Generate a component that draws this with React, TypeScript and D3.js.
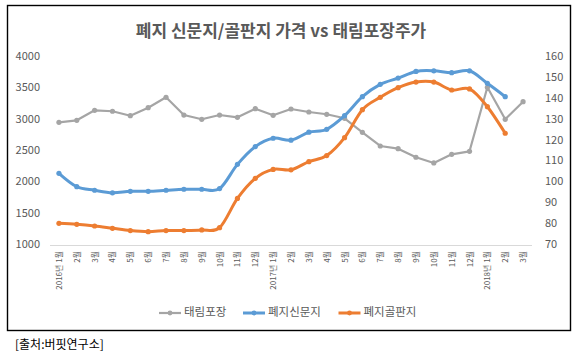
import React from "react";
import * as d3 from "d3";

const months: string[] = [
  "2016년 1월", "2월", "3월", "4월", "5월", "6월", "7월", "8월", "9월", "10월", "11월", "12월",
  "2017년 1월", "2월", "3월", "4월", "5월", "6월", "7월", "8월", "9월", "10월", "11월", "12월",
  "2018년 1월", "2월", "3월",
];

// 태림포장 주가 (left axis)
const taerim: number[] = [
  2958, 2990, 3149, 3134, 3063, 3191, 3357, 3074, 3006, 3074, 3038, 3175,
  3070, 3170, 3122, 3086, 3022, 2798, 2580, 2537, 2400, 2309, 2447, 2495,
  3517, 3006, 3287,
];

// 폐지 신문지 (right axis)
const newsprint: number[] = [
  104.3, 97.9, 96.2, 95.0, 95.7, 95.7, 96.2, 96.7, 96.7, 97.0, 108.6, 117.1,
  121.1, 120.2, 124.0, 125.4, 131.9, 141.0, 146.9, 149.9, 153.1, 153.4, 152.5, 153.4,
  147.4, 141.0,
];

// 폐지 골판지 (right axis)
const corrugated: number[] = [
  80.4, 79.9, 79.1, 78.0, 76.9, 76.4, 76.9, 76.9, 77.2, 78.3, 92.3, 101.9,
  106.2, 106.0, 109.9, 112.8, 121.4, 134.8, 140.7, 145.3, 148.0, 148.0, 144.2, 144.7,
  136.2, 123.5,
];

const leftTicks: number[] = [1000, 1500, 2000, 2500, 3000, 3500, 4000];
const rightTicks: number[] = [70, 80, 90, 100, 110, 120, 130, 140, 150, 160];

const seriesNames: string[] = ["태림포장", "폐지신문지", "폐지골판지"];
const seriesColors: string[] = ["#A5A5A5", "#5B9BD5", "#ED7D31"];

const title = "폐지 신문지/골판지 가격 vs 태림포장주가";
const source = "[출처:버핏연구소]";

const FONT = "'Noto Sans CJK KR', 'Noto Sans', sans-serif";
const TEXT = "#595959";

export default function App() {
  const W = 580, H = 356;
  const plotL = 50, plotR = 532, plotT = 57, plotB = 245;

  const x = d3.scaleBand<number>().domain(d3.range(months.length)).range([plotL, plotR]).padding(0);
  const cx = (i: number) => (x(i) as number) + x.bandwidth() / 2;
  const yL = d3.scaleLinear().domain([1000, 4000]).range([plotB, plotT]);
  const yR = d3.scaleLinear().domain([70, 160]).range([plotB, plotT]);

  const lineStraight = (ys: (v: number) => number) =>
    d3.line<number>().x((_, i) => cx(i)).y((v) => ys(v));
  const lineSmooth = (ys: (v: number) => number) =>
    d3.line<number>().x((_, i) => cx(i)).y((v) => ys(v)).curve(d3.curveCardinal.tension(0));

  const series = [
    { data: taerim, scale: yL, path: lineStraight(yL)(taerim), width: 2.2 },
    { data: newsprint, scale: yR, path: lineSmooth(yR)(newsprint), width: 3 },
    { data: corrugated, scale: yR, path: lineSmooth(yR)(corrugated), width: 3 },
  ];

  // legend layout
  const legendY = 313;
  const charW = 11.5;
  let lx = 159;
  const legendItems = seriesNames.map((name, i) => {
    const item = { name, color: seriesColors[i], x: lx };
    lx += 22 + 3 + name.length * charW + 13;
    return item;
  });

  return (
    <svg width={W} height={H} style={{ position: "absolute", left: 0, top: 0 }} fontFamily={FONT}>
      <rect x={0} y={0} width={W} height={H} fill="#fff" />
      <rect x={7.5} y={5.5} width={563} height={325} fill="#fff" stroke="#000" strokeWidth={1.4} />

      <text x={281} y={32} textAnchor="middle" dominantBaseline="middle" fontSize={17} fontWeight="bold" fill={TEXT}>
        {title}
      </text>

      {/* left axis labels */}
      {leftTicks.map((t) => (
        <text key={"l" + t} x={40} y={yL(t)} textAnchor="end" dominantBaseline="middle" fontSize={11} fill={TEXT}>
          {t}
        </text>
      ))}
      {/* right axis labels */}
      {rightTicks.map((t) => (
        <text key={"r" + t} x={545} y={yR(t)} textAnchor="start" dominantBaseline="middle" fontSize={11} fill={TEXT}>
          {t}
        </text>
      ))}

      {/* category axis line */}
      <line x1={plotL} x2={plotR} y1={plotB + 0.5} y2={plotB + 0.5} stroke="#D9D9D9" strokeWidth={1} />

      {/* category labels */}
      {months.map((m, i) => (
        <text
          key={"m" + i}
          transform={`translate(${cx(i) + 3},${plotB + 6}) rotate(-90)`}
          textAnchor="end"
          fontSize={8}
          fill={TEXT}
        >
          {m}
        </text>
      ))}

      {/* series */}
      {series.map((s, si) => (
        <g key={"s" + si}>
          <path d={s.path || ""} fill="none" stroke={seriesColors[si]} strokeWidth={s.width} strokeLinejoin="round" strokeLinecap="round" />
          {s.data.map((v, i) => (
            <circle key={i} cx={cx(i)} cy={s.scale(v)} r={2.6} fill={seriesColors[si]} />
          ))}
        </g>
      ))}

      {/* legend */}
      {legendItems.map((it, i) => (
        <g key={"lg" + i}>
          <line x1={it.x} x2={it.x + 22} y1={legendY} y2={legendY} stroke={it.color} strokeWidth={i === 0 ? 2.2 : 3} />
          <circle cx={it.x + 11} cy={legendY} r={2.4} fill={it.color} />
          <text x={it.x + 25} y={legendY} dominantBaseline="middle" fontSize={11.5} fill={TEXT}>
            {it.name}
          </text>
        </g>
      ))}

      <text x={15} y={346} dominantBaseline="middle" fontSize={12} fill="#000">
        {source}
      </text>
    </svg>
  );
}
